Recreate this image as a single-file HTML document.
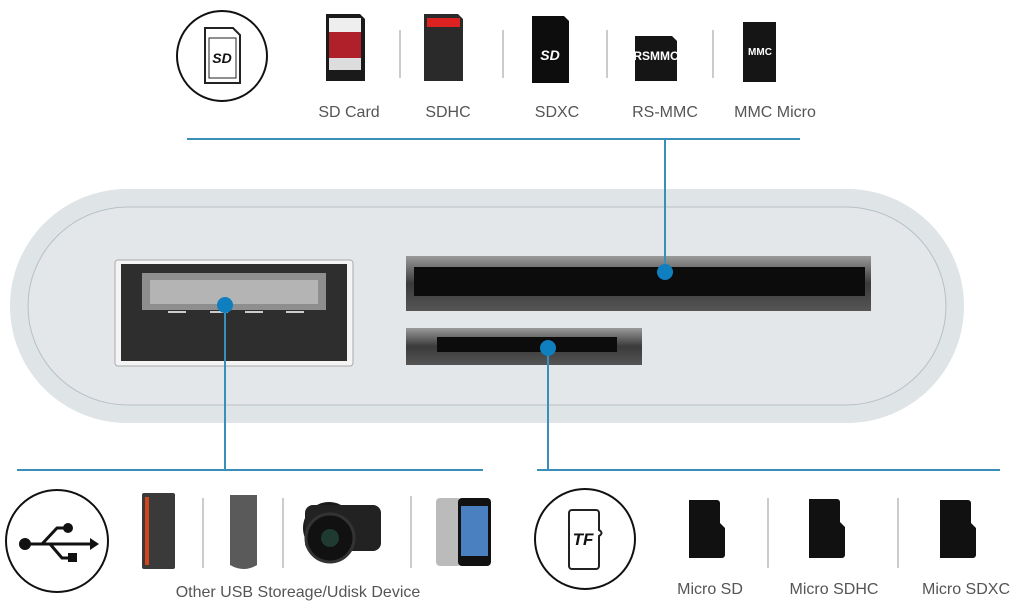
<!DOCTYPE html>
<html><head><meta charset="utf-8"><style>
html,body{margin:0;padding:0;background:#fff;}
svg{display:block}
text{font-family:"Liberation Sans",sans-serif;fill:#555;}
</style></head><body>
<svg width="1024" height="608" viewBox="0 0 1024 608" xmlns="http://www.w3.org/2000/svg">
<defs>
<linearGradient id="slot" x1="0" y1="0" x2="0" y2="1"><stop offset="0" stop-color="#9a9a9a"/><stop offset="0.5" stop-color="#3a3a3a"/><stop offset="1" stop-color="#555"/></linearGradient>
</defs>
<!-- body -->
<rect x="10" y="189" width="954" height="234" rx="117" fill="#dfe4e7"/>
<rect x="28" y="207" width="918" height="198" rx="100" fill="#e3e7ea" stroke="#b8c0c5" stroke-width="1"/>
<!-- USB port -->
<rect x="115" y="260" width="238" height="106" rx="3" fill="#f4f4f4" stroke="#aaa"/>
<rect x="121" y="264" width="226" height="97" fill="#2e2e2e"/>
<rect x="142" y="273" width="184" height="37" fill="#8e8e8e"/>
<rect x="150" y="280" width="168" height="24" fill="#b4b4b4"/>
<rect x="168" y="311" width="18" height="2" fill="#ccc"/><rect x="210" y="311" width="18" height="2" fill="#ccc"/><rect x="245" y="311" width="18" height="2" fill="#ccc"/><rect x="286" y="311" width="18" height="2" fill="#ccc"/>
<!-- SD slot -->
<rect x="406" y="256" width="465" height="55" fill="url(#slot)"/>
<rect x="414" y="267" width="451" height="29" fill="#0c0c0c"/>
<!-- micro slot -->
<rect x="406" y="328" width="236" height="37" fill="url(#slot)"/>
<rect x="437" y="337" width="180" height="15" fill="#0c0c0c"/>
<!-- connectors -->
<g stroke="#3a8fb8" stroke-width="2">
<line x1="187" y1="139" x2="800" y2="139"/>
<line x1="665" y1="139" x2="665" y2="272"/>
<line x1="225" y1="305" x2="225" y2="470"/>
<line x1="548" y1="348" x2="548" y2="470"/>
<line x1="17" y1="470" x2="483" y2="470"/>
<line x1="537" y1="470" x2="1000" y2="470"/>
</g>
<g fill="#0f7fc0"><circle cx="665" cy="272" r="8"/><circle cx="225" cy="305" r="8"/><circle cx="548" cy="348" r="8"/></g>
<!-- top SD circle -->
<circle cx="222" cy="56" r="45" fill="#fff" stroke="#111" stroke-width="2"/>
<path d="M205 28 h28 l7 7 v48 h-35 z" fill="none" stroke="#222" stroke-width="2"/>
<rect x="209" y="38" width="27" height="40" fill="none" stroke="#222" stroke-width="1"/>
<text x="222" y="63" text-anchor="middle" font-size="14" font-weight="bold" font-style="italic" style="fill:#111">SD</text>
<!-- top cards -->
<g>
<path d="M326 14 h34 l5 5 v62 h-39 z" fill="#1a1a1a"/><rect x="329" y="18" width="32" height="14" fill="#eee"/><rect x="329" y="32" width="32" height="26" fill="#b0202a"/><rect x="329" y="58" width="32" height="12" fill="#ddd"/>
<path d="M424 14 h34 l5 5 v62 h-39 z" fill="#2a2a2a"/><rect x="427" y="18" width="33" height="9" fill="#d22"/>
<path d="M532 16 h32 l5 5 v62 h-37 z" fill="#0d0d0d"/><text x="550" y="60" text-anchor="middle" font-size="14" font-weight="bold" font-style="italic" style="fill:#fff">SD</text>
<path d="M635 36 h37 l5 5 v40 h-42 z" fill="#151515"/><text x="656" y="60" text-anchor="middle" font-size="12" font-weight="bold" style="fill:#fff">RSMMC</text>
<path d="M743 22 h33 v60 h-33 z" fill="#151515"/><text x="760" y="55" text-anchor="middle" font-size="10" font-weight="bold" style="fill:#fff">MMC</text>
</g>
<g stroke="#bbb" stroke-width="1.5"><line x1="400" y1="30" x2="400" y2="78"/><line x1="503" y1="30" x2="503" y2="78"/><line x1="607" y1="30" x2="607" y2="78"/><line x1="713" y1="30" x2="713" y2="78"/></g>
<g font-size="16"><text x="349" y="117" text-anchor="middle">SD Card</text><text x="448" y="117" text-anchor="middle">SDHC</text><text x="557" y="117" text-anchor="middle">SDXC</text><text x="665" y="117" text-anchor="middle">RS-MMC</text><text x="775" y="117" text-anchor="middle">MMC Micro</text></g>
<!-- bottom USB circle -->
<circle cx="57" cy="541" r="51" fill="#fff" stroke="#111" stroke-width="2"/>
<g stroke="#111" stroke-width="3" fill="none"><line x1="25" y1="544" x2="90" y2="544"/><path d="M42 544 l15 -16 h10"/><path d="M50 544 l12 14 h10"/></g>
<circle cx="25" cy="544" r="6" fill="#111"/><circle cx="68" cy="528" r="5" fill="#111"/><rect x="68" y="553" width="9" height="9" fill="#111"/><path d="M90 538 l9 6 -9 6z" fill="#111"/>
<!-- usb devices -->
<rect x="142" y="493" width="33" height="76" rx="2" fill="#3a3a3a"/><rect x="145" y="497" width="4" height="68" fill="#d0461c"/>
<path d="M230 495 h27 v70 q-13 8 -27 0 z" fill="#5a5a5a"/>
<circle cx="329" cy="528" r="26" fill="#1b1b1b"/><rect x="305" y="505" width="76" height="46" rx="8" fill="#222"/><circle cx="330" cy="538" r="24" fill="#111" stroke="#333" stroke-width="3"/><circle cx="330" cy="538" r="9" fill="#1f3a30"/>
<rect x="436" y="498" width="25" height="68" rx="4" fill="#bbb"/><rect x="458" y="498" width="33" height="68" rx="4" fill="#111"/><rect x="461" y="506" width="27" height="50" fill="#4a7fc0"/>
<g stroke="#bbb" stroke-width="1.5"><line x1="203" y1="498" x2="203" y2="568"/><line x1="283" y1="498" x2="283" y2="568"/><line x1="411" y1="496" x2="411" y2="568"/></g>
<text x="298" y="597" text-anchor="middle" font-size="16">Other USB Storeage/Udisk Device</text>
<!-- TF circle -->
<circle cx="585" cy="539" r="50" fill="#fff" stroke="#111" stroke-width="2"/>
<path d="M580 510 h16 a3 3 0 0 1 3 3 v17 q5 3 0 6 v30 a3 3 0 0 1 -3 3 h-24 a3 3 0 0 1 -3 -3 v-53 a3 3 0 0 1 3 -3 z" fill="#fff" stroke="#222" stroke-width="2"/>
<text x="583" y="545" text-anchor="middle" font-size="17" font-weight="bold" font-style="italic" style="fill:#111">TF</text>
<!-- micro cards -->
<path d="M689 500 h28 a3 3 0 0 1 3 3 v20 l5 5 v27 a3 3 0 0 1 -3 3 h-33 z" fill="#111"/>
<path d="M809 499 h28 a3 3 0 0 1 3 3 v20 l5 5 v28 a3 3 0 0 1 -3 3 h-33 z" fill="#111"/>
<path d="M940 500 h28 a3 3 0 0 1 3 3 v20 l5 5 v27 a3 3 0 0 1 -3 3 h-33 z" fill="#111"/>
<g stroke="#bbb" stroke-width="1.5"><line x1="768" y1="498" x2="768" y2="568"/><line x1="898" y1="498" x2="898" y2="568"/></g>
<g font-size="16"><text x="710" y="594" text-anchor="middle">Micro SD</text><text x="834" y="594" text-anchor="middle">Micro SDHC</text><text x="966" y="594" text-anchor="middle">Micro SDXC</text></g>
</svg>
</body></html>
